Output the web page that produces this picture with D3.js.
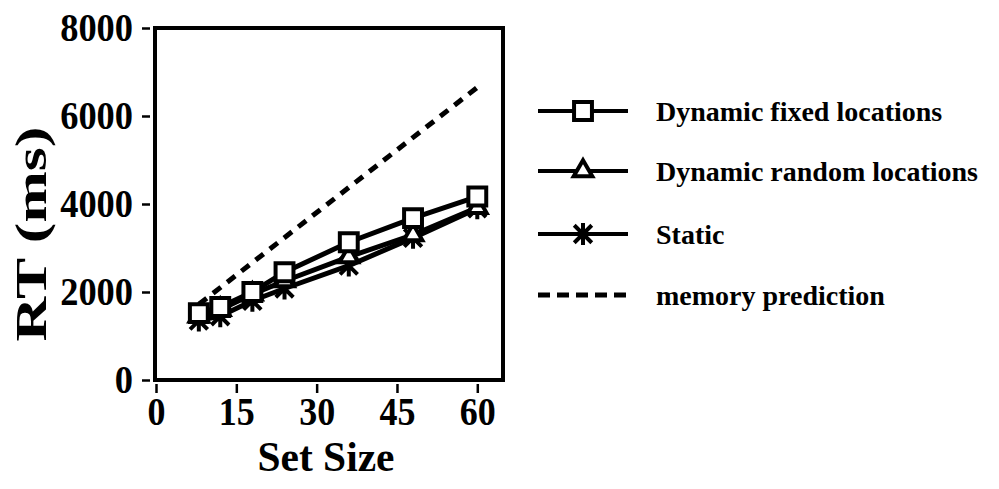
<!DOCTYPE html>
<html>
<head>
<meta charset="utf-8">
<script src="https://cdn.jsdelivr.net/npm/d3@7"></script>
<style>
  html, body { margin: 0; padding: 0; background: #fff; }
  text { font-family: "Liberation Serif", "Times New Roman", serif; font-weight: bold; fill: #000; }
</style>
</head>
<body>
<div id="chart"></div>
<script>
// set sizes and mean RTs (ms)
const setSizes = [8, 12, 18, 24, 36, 48, 60];
const fixedRT = [1520, 1660, 2000, 2450, 3130, 3680, 4170];
const randomRT = [1450, 1600, 1950, 2250, 2800, 3300, 3920];
const staticRT = [1350, 1450, 1800, 2080, 2600, 3230, 3900];
const memorySizes = [8, 60];
const memoryRT = [1720, 6650];

const xTicks = [0, 15, 30, 45, 60];
const yTicks = [0, 2000, 4000, 6000, 8000];
const legendLabels = ['Dynamic fixed locations', 'Dynamic random locations', 'Static', 'memory prediction'];

const width = 999, height = 489;

const svg = d3.select('#chart').append('svg')
    .attr('width', width)
    .attr('height', height);

const x = d3.scaleLinear().domain([0, 64.8]).range([156, 503]);
const y = d3.scaleLinear().domain([0, 8000]).range([380, 28]);

// star marker: vertical bar plus an X
const star = {
    draw(ctx, size) {
        const r = Math.sqrt(size) / 2;
        const d = r * 0.8;
        ctx.moveTo(0, -r); ctx.lineTo(0, r);
        ctx.moveTo(-d, -d); ctx.lineTo(d, d);
        ctx.moveTo(-d, d); ctx.lineTo(d, -d);
    }
};

const series = [
    { name: legendLabels[2], values: staticRT, symbol: star, size: 480, fill: 'none' },
    { name: legendLabels[1], values: randomRT, symbol: d3.symbolTriangle, size: 150, fill: '#fff' },
    { name: legendLabels[0], values: fixedRT, symbol: d3.symbolSquare, size: 320, fill: '#fff' }
];

// frame
svg.append('rect')
    .attr('x', x(0) - 1)
    .attr('y', y(8000))
    .attr('width', x(64.8) - x(0) + 1)
    .attr('height', y(0) - y(8000))
    .attr('fill', 'none')
    .attr('stroke', '#000')
    .attr('stroke-width', 4);

// y axis
const yAxis = svg.append('g')
    .attr('transform', `translate(${x(0) - 6},0)`)
    .call(d3.axisLeft(y).tickValues(yTicks).tickSize(8).tickPadding(9).tickFormat(d3.format('d')));
yAxis.select('.domain').remove();
yAxis.selectAll('line').attr('stroke-width', 2.5);
yAxis.selectAll('text')
    .style('font-size', '40px')
    .attr('textLength', d => String(d).length * 18.2)
    .attr('lengthAdjust', 'spacingAndGlyphs');

// x axis
const xAxis = svg.append('g')
    .attr('transform', `translate(0,${y(0) + 4})`)
    .call(d3.axisBottom(x).tickValues(xTicks).tickSize(9).tickPadding(4));
xAxis.select('.domain').remove();
xAxis.selectAll('line').attr('stroke-width', 2.5);
xAxis.selectAll('text')
    .style('font-size', '39px')
    .attr('textLength', d => String(d).length * 18)
    .attr('lengthAdjust', 'spacingAndGlyphs');

// axis titles
svg.append('text')
    .attr('transform', `translate(46,234) rotate(-90)`)
    .attr('text-anchor', 'middle')
    .style('font-size', '44px')
    .attr('textLength', 215)
    .attr('lengthAdjust', 'spacingAndGlyphs')
    .text('RT (ms)');

svg.append('text')
    .attr('x', 326)
    .attr('y', 471)
    .attr('text-anchor', 'middle')
    .style('font-size', '43px')
    .attr('textLength', 137)
    .attr('lengthAdjust', 'spacingAndGlyphs')
    .text('Set Size');

// memory prediction
svg.append('path')
    .datum(memorySizes.map((s, i) => [s, memoryRT[i]]))
    .attr('d', d3.line().x(d => x(d[0])).y(d => y(d[1])))
    .attr('fill', 'none')
    .attr('stroke', '#000')
    .attr('stroke-width', 5)
    .attr('stroke-dasharray', '10,8');

const line = d3.line().x(d => x(d[0])).y(d => y(d[1]));

series.forEach(s => {
    const pts = setSizes.map((v, i) => [v, s.values[i]]);
    svg.append('path')
        .datum(pts)
        .attr('d', line)
        .attr('fill', 'none')
        .attr('stroke', '#000')
        .attr('stroke-width', 5);
    svg.selectAll(null)
        .data(pts)
        .enter().append('path')
        .attr('transform', d => `translate(${x(d[0])},${y(d[1])})`)
        .attr('d', d3.symbol().type(s.symbol).size(s.size))
        .attr('fill', s.fill)
        .attr('stroke', '#000')
        .attr('stroke-width', 4);
});

// legend
const legendY = [111, 171, 234, 295];
const legendSeries = [series[2], series[1], series[0]];
const legend = svg.selectAll('.legend')
    .data(legendLabels)
    .enter().append('g')
    .attr('class', 'legend')
    .attr('transform', (d, i) => `translate(0,${legendY[i]})`);

legend.append('line')
    .attr('x1', 538)
    .attr('x2', 628)
    .attr('stroke', '#000')
    .attr('stroke-width', (d, i) => i === 3 ? 5 : 4)
    .attr('stroke-dasharray', (d, i) => i === 3 ? '12,7' : null);

legend.filter((d, i) => i < 3).append('path')
    .attr('transform', 'translate(583,0)')
    .attr('d', (d, i) => d3.symbol().type(legendSeries[i].symbol).size(legendSeries[i].size)())
    .attr('fill', (d, i) => legendSeries[i].fill)
    .attr('stroke', '#000')
    .attr('stroke-width', 4);

legend.append('text')
    .attr('x', 656)
    .attr('dy', '0.35em')
    .style('font-size', '28px')
    .text(d => d);
</script>
</body>
</html>
